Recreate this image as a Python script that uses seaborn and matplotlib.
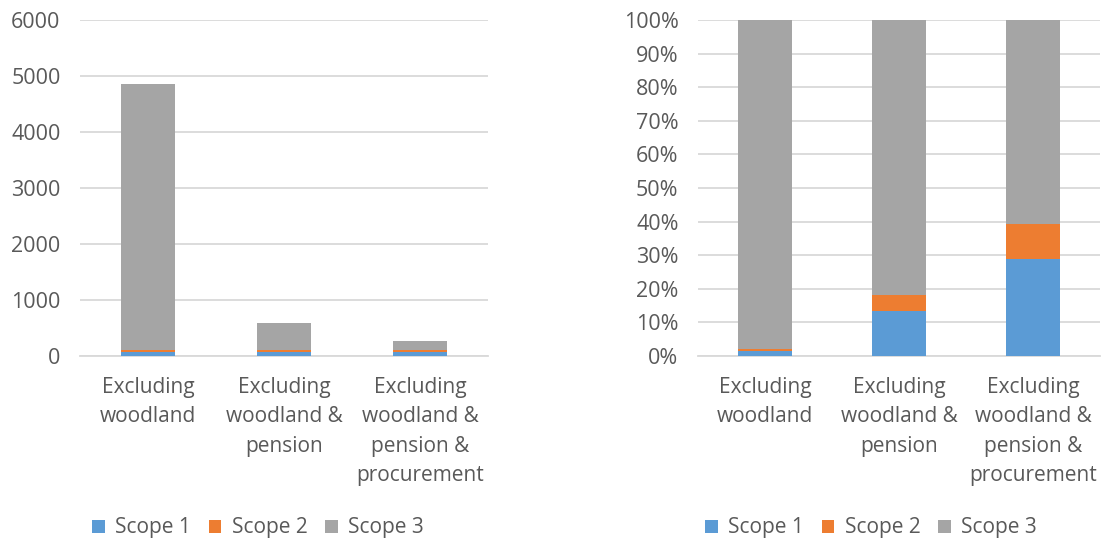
import numpy as np
import pandas as pd
import matplotlib
matplotlib.use("Agg")
import matplotlib.pyplot as plt
import seaborn as sns
from matplotlib.patches import Patch
from matplotlib.ticker import FuncFormatter

sns.set_theme(style="white")
plt.rcParams['font.family'] = ['Open Sans', 'DejaVu Sans']

categories = ["Excluding\nwoodland",
              "Excluding\nwoodland &\npension",
              "Excluding\nwoodland &\npension &\nprocurement"]
scope1 = [79, 79, 79]
scope2 = [29, 29, 29]
scope3 = [4752, 487, 166]
series_names = ["Scope 1", "Scope 2", "Scope 3"]
colors = ["#5B9BD5", "#ED7D31", "#A5A5A5"]

df = pd.DataFrame({"category": categories, "Scope 1": scope1,
                   "Scope 2": scope2, "Scope 3": scope3})
total = df[series_names].sum(axis=1)
pct = df[series_names].div(total, axis=0) * 100
pct["category"] = categories

TEXT = "#595959"
GRID = "#D9D9D9"
FS = 15
FS_Y = 15.5

fig = plt.figure(figsize=(11.02, 5.42), dpi=100)
ax1 = fig.add_axes([80 / 1102, 1 - 356 / 542, 408 / 1102, 336 / 542])
ax2 = fig.add_axes([698 / 1102, 1 - 356 / 542, 402 / 1102, 336 / 542])


def stacked(ax, data):
    c1 = data["Scope 1"]
    c2 = c1 + data["Scope 2"]
    c3 = c2 + data["Scope 3"]
    for vals, col in zip([c3, c2, c1], colors[::-1]):
        sns.barplot(x=data["category"], y=vals, color=col, width=0.4,
                    saturation=1, linewidth=0, edgecolor="none",
                    ax=ax, zorder=3)
    ax.set_xlabel("")
    ax.set_ylabel("")
    ax.set_xlim(-0.5, 2.5)
    for s in ["top", "right", "left"]:
        ax.spines[s].set_visible(False)
    ax.spines["bottom"].set_color(GRID)
    ax.spines["bottom"].set_linewidth(1.3)
    ax.yaxis.grid(True, color=GRID, linewidth=1.3, zorder=0)
    ax.set_axisbelow(True)
    ax.tick_params(axis="both", length=0, colors=TEXT)
    ax.tick_params(axis="x", labelsize=FS, pad=15)
    ax.tick_params(axis="y", labelsize=FS_Y, pad=14)
    for lbl in ax.get_xticklabels():
        lbl.set_linespacing(1.53)
        lbl.set_verticalalignment("top")


stacked(ax1, df)
ax1.set_ylim(0, 6000)
ax1.set_yticks(np.arange(0, 6001, 1000))

stacked(ax2, pct)
ax2.set_ylim(0, 100)
ax2.set_yticks(np.arange(0, 101, 10))
ax2.yaxis.set_major_formatter(FuncFormatter(lambda v, p: f"{v:.0f}%"))

handles = [Patch(facecolor=c, edgecolor="none") for c in colors]
for cx in [258 / 1102, 871 / 1102]:
    fig.legend(handles, series_names, loc="center", ncol=3,
               bbox_to_anchor=(cx, 1 - 528 / 542), frameon=False,
               fontsize=FS, labelcolor=TEXT, handlelength=0.6,
               handleheight=0.6, handletextpad=0.5, columnspacing=0.85)

fig.savefig("out.png", dpi=100, facecolor="white")
